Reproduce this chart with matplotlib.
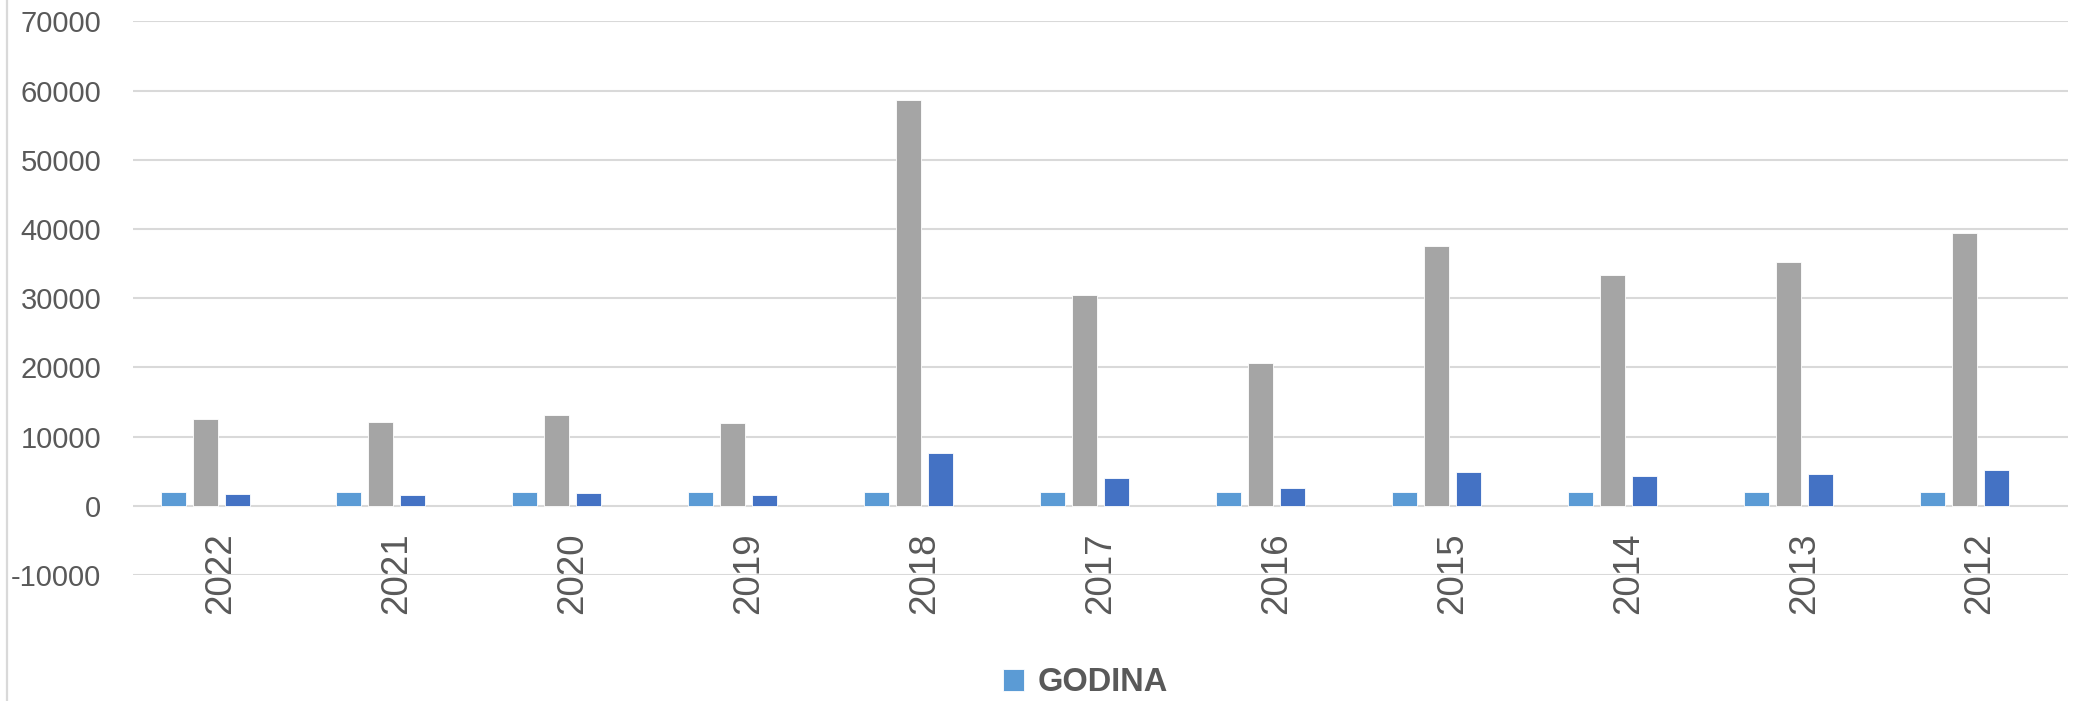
import numpy as np
import matplotlib
matplotlib.use("Agg")
import matplotlib.pyplot as plt
from matplotlib.lines import Line2D

# podaci
years = ["2022", "2021", "2020", "2019", "2018", "2017", "2016", "2015", "2014", "2013", "2012"]
godina = [2022, 2021, 2020, 2019, 2018, 2017, 2016, 2015, 2014, 2013, 2012]
series_gray = [12570, 12180, 13170, 12020, 58650, 30430, 20580, 37490, 33350, 35180, 39450]
series_dark = [1680, 1590, 1780, 1590, 7600, 3990, 2610, 4920, 4340, 4580, 5160]

text_color = "#595959"
grid_color = "#D9D9D9"

fig = plt.figure(figsize=(20.83, 7.01), dpi=100)
ax = fig.add_axes([0.0639, 0.1797, 0.9289, 0.7899])

x = np.arange(len(years))
slot = 0.182
width = 0.142
# 4 mjesta po grupi, cetvrto je prazno
offsets = (np.arange(4) - 1.5) * slot

b1 = ax.bar(x + offsets[0], godina, width, color="#5B9BD5", edgecolor="#ffffff", linewidth=0.6, zorder=3)
ax.bar(x + offsets[1], series_gray, width, color="#A5A5A5", edgecolor="#ffffff", linewidth=0.6, zorder=3)
ax.bar(x + offsets[2], series_dark, width, color="#4472C4", edgecolor="#ffffff", linewidth=0.6, zorder=3)

ax.set_xlim(-0.5, len(years) - 0.5)
ax.set_ylim(-10000, 70000)
ax.set_yticks(np.arange(-10000, 70001, 10000))
ax.set_yticklabels([str(v) for v in range(-10000, 70001, 10000)],
                   fontsize=21, color=text_color, family=["Liberation Sans", "DejaVu Sans"])
ax.yaxis.grid(True, color=grid_color, linewidth=1.5, zorder=0)
ax.tick_params(axis="y", length=0, pad=23)

# kategorije uz nultu liniju
ax.spines["bottom"].set_position(("data", 0))
for s in ax.spines.values():
    s.set_visible(False)
ax.set_xticks(x)
ax.set_xticklabels(years, rotation=90, fontsize=26.5, color=text_color,
                   family=["Liberation Sans Narrow", "Liberation Sans", "DejaVu Sans"])
ax.tick_params(axis="x", length=0, pad=19)

fig.legend([b1], ["GODINA"], loc="center", bbox_to_anchor=(0.521, 0.026),
           frameon=False, handlelength=0.65, handleheight=0.65, handletextpad=0.4,
           prop={"family": ["Liberation Sans", "DejaVu Sans"], "weight": "bold", "size": 23.5},
           labelcolor=text_color)

fig.add_artist(Line2D([7 / 2083, 7 / 2083], [0, 1], transform=fig.transFigure,
                      color=grid_color, linewidth=1.6))

fig.savefig("out.png", dpi=100)
